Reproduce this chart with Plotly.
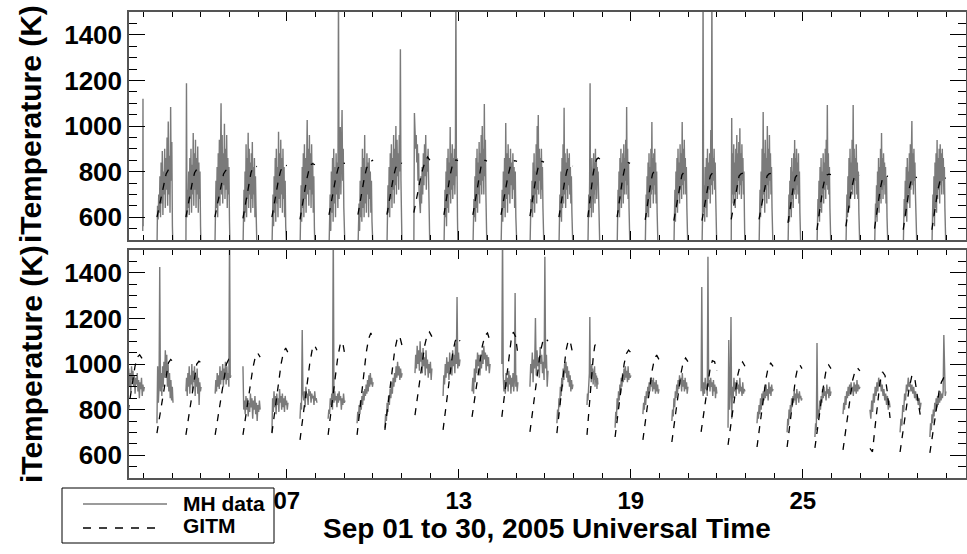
import numpy as np
import plotly.graph_objects as go
from plotly.subplots import make_subplots

# ---------------- data (day of September 2005, temperature in K) ----------------
top_start = [1.975, 2.47, 3.48, 4.49, 5.47, 6.48, 7.46, 8.47, 9.48, 10.49, 11.43, 12.48, 13.49, 14.47,
             15.48, 16.49, 17.50, 18.52, 19.50, 20.50, 21.48, 22.50, 23.47, 24.48, 25.49, 26.50,
             27.50, 28.50, 29.50]
top_end = [1.99, 3.03, 4.01, 5.02, 5.96, 7.00, 7.98, 9.03, 10.01, 11.02, 11.99, 12.97, 13.98, 15.03,
           15.97, 16.98, 17.92, 18.97, 19.95, 20.99, 22.00, 22.98, 23.96, 24.93, 25.98, 26.99,
           27.97, 28.98, 29.99]

top_mh = [
    [540, 1120, 560],
    [450, 650, 590, 700, 620, 780, 600, 840, 660, 890, 610, 800, 700, 900, 640, 860, 720, 950, 650, 1020, 700, 870, 620, 1083, 760, 930, 560, 450],
    [450, 1188, 600, 720, 640, 800, 610, 860, 680, 900, 620, 830, 700, 969, 650, 880, 720, 940, 640, 860, 700, 910, 620, 840, 680, 800, 560, 450],
    [450, 620, 760, 640, 820, 600, 880, 680, 940, 650, 1000, 1100, 700, 960, 660, 880, 740, 1010, 680, 900, 720, 960, 640, 860, 700, 820, 580, 450],
    [450, 600, 720, 580, 800, 620, 920, 600, 860, 680, 970, 640, 900, 700, 840, 620, 880, 680, 930, 640, 820, 700, 860, 600, 780, 650, 540, 450],
    [450, 580, 700, 560, 780, 620, 860, 580, 900, 660, 820, 600, 975, 680, 880, 640, 940, 700, 860, 620, 900, 680, 820, 600, 760, 560, 520, 450],
    [450, 600, 740, 580, 820, 640, 880, 600, 920, 680, 860, 620, 940, 1026, 700, 900, 650, 960, 720, 880, 640, 920, 700, 840, 620, 780, 560, 450],
    [450, 560, 700, 540, 800, 620, 860, 580, 900, 660, 820, 600, 880, 700, 840, 640, 1600, 680, 920, 996, 700, 880, 1070, 760, 900, 640, 520, 450],
    [450, 560, 660, 540, 760, 600, 820, 580, 900, 640, 860, 600, 960, 660, 820, 620, 880, 700, 840, 600, 860, 680, 800, 620, 760, 580, 520, 450],
    [450, 600, 740, 620, 820, 600, 880, 680, 920, 640, 860, 720, 960, 660, 900, 740, 1000, 700, 940, 780, 880, 720, 960, 800, 1337, 760, 600, 450],
    [450, 1057, 980, 900, 960, 840, 920, 760, 880, 700, 640, 618, 780, 660, 820, 700, 880, 740, 920, 780, 960, 720, 860, 800, 900, 760, 620, 450],
    [450, 580, 720, 600, 800, 560, 860, 640, 900, 620, 840, 700, 996, 660, 880, 720, 920, 680, 860, 740, 900, 700, 840, 1600, 780, 860, 600, 450],
    [450, 560, 680, 600, 780, 580, 860, 640, 900, 620, 840, 700, 930, 660, 880, 740, 960, 700, 1000, 760, 900, 700, 1096, 780, 940, 700, 540, 450],
    [450, 600, 720, 580, 800, 640, 860, 600, 1013, 680, 880, 620, 920, 700, 860, 660, 900, 740, 840, 680, 880, 720, 820, 640, 800, 600, 540, 450],
    [450, 580, 680, 620, 760, 600, 840, 660, 880, 620, 800, 700, 920, 660, 1000, 720, 1048, 700, 900, 760, 860, 680, 900, 720, 820, 640, 560, 450],
    [450, 560, 700, 600, 800, 580, 860, 640, 920, 660, 1080, 700, 880, 640, 840, 720, 900, 680, 860, 740, 880, 700, 820, 660, 780, 620, 540, 450],
    [450, 580, 700, 600, 760, 1188, 640, 820, 600, 860, 680, 800, 620, 880, 700, 840, 660, 900, 720, 860, 680, 820, 740, 800, 700, 620, 540, 450],
    [450, 600, 720, 620, 800, 600, 860, 680, 900, 640, 840, 720, 880, 660, 920, 700, 860, 760, 940, 700, 1083, 740, 900, 680, 840, 640, 560, 450],
    [450, 580, 700, 600, 780, 620, 840, 600, 880, 680, 820, 640, 900, 700, 1018, 720, 860, 660, 880, 740, 900, 700, 840, 660, 800, 620, 560, 450],
    [450, 600, 720, 580, 800, 640, 860, 620, 900, 700, 840, 660, 920, 720, 880, 680, 1018, 740, 900, 700, 940, 760, 860, 700, 820, 640, 560, 450],
    [450, 600, 1600, 620, 740, 580, 820, 640, 860, 600, 900, 680, 840, 720, 880, 660, 982, 740, 1600, 700, 860, 760, 900, 720, 840, 680, 560, 450],
    [450, 1035, 700, 880, 660, 920, 700, 840, 640, 900, 720, 960, 680, 880, 760, 930, 700, 990, 740, 880, 680, 920, 760, 860, 700, 800, 600, 450],
    [450, 580, 720, 600, 800, 640, 900, 680, 1061, 700, 880, 620, 940, 720, 860, 660, 1000, 740, 900, 680, 960, 760, 880, 700, 820, 640, 560, 450],
    [450, 600, 700, 580, 760, 640, 820, 600, 860, 680, 800, 640, 880, 700, 939, 720, 860, 680, 900, 740, 840, 700, 880, 660, 800, 620, 540, 450],
    [450, 560, 680, 600, 760, 580, 820, 640, 860, 620, 800, 700, 880, 660, 840, 720, 900, 680, 940, 740, 1092, 720, 880, 700, 820, 640, 540, 450],
    [450, 580, 700, 600, 780, 620, 860, 640, 900, 680, 840, 720, 940, 700, 1092, 740, 900, 680, 860, 760, 920, 700, 840, 680, 800, 620, 560, 450],
    [450, 560, 660, 600, 740, 580, 800, 640, 860, 620, 820, 680, 900, 660, 969, 720, 860, 680, 880, 740, 840, 700, 820, 660, 780, 600, 540, 450],
    [450, 560, 680, 600, 760, 620, 820, 580, 860, 660, 800, 700, 880, 640, 920, 720, 960, 1022, 740, 880, 700, 900, 760, 840, 700, 620, 540, 450],
    [450, 580, 700, 600, 780, 560, 840, 640, 880, 620, 939, 680, 860, 720, 900, 660, 920, 740, 880, 700, 900, 760, 860, 700, 820, 640, 560, 450],
]

top_gitm = [
    [],
    [600, 650, 700, 750, 790, 808, 812, 810],
    [600, 655, 705, 755, 795, 810, 812, 808],
    [600, 650, 700, 750, 790, 805, 810, 806],
    [595, 650, 700, 750, 795, 820, 825, 822],
    [600, 655, 710, 760, 800, 825, 828, 826],
    [590, 650, 705, 760, 800, 830, 835, 830],
    [610, 670, 725, 775, 815, 835, 838, 836],
    [611, 670, 725, 775, 815, 835, 845, 851],
    [611, 670, 725, 775, 815, 835, 838, 836],
    [620, 675, 725, 775, 815, 845, 864, 850],
    [610, 670, 725, 780, 820, 845, 851, 848],
    [610, 668, 724, 778, 820, 843, 850, 846],
    [610, 668, 724, 778, 820, 843, 848, 845],
    [605, 665, 720, 775, 815, 838, 845, 842],
    [600, 660, 715, 765, 805, 822, 827, 824],
    [600, 665, 725, 785, 830, 852, 860, 855],
    [600, 660, 715, 770, 810, 832, 840, 836],
    [588, 645, 700, 750, 790, 803, 807, 805],
    [585, 640, 695, 745, 785, 798, 802, 800],
    [585, 640, 695, 745, 783, 795, 798, 796],
    [590, 642, 695, 742, 780, 790, 793, 791],
    [590, 642, 695, 742, 780, 790, 793, 791],
    [575, 632, 688, 738, 775, 786, 789, 787],
    [544, 610, 675, 730, 772, 785, 789, 787],
    [560, 620, 680, 732, 770, 782, 785, 783],
    [550, 612, 672, 726, 765, 778, 781, 779],
    [545, 608, 668, 722, 760, 773, 776, 774],
    [545, 606, 665, 720, 758, 770, 773, 771],
]

bot_start = [1.46, 2.47, 3.48, 4.50, 5.47, 6.48, 7.46, 8.44, 9.45, 10.42, 11.47, 12.45, 13.46, 14.50,
             15.48, 16.42, 17.47, 18.45, 19.42, 20.43, 21.45, 22.39, 23.40, 24.45, 25.42, 26.40,
             27.34, 28.39, 29.43]
bot_end = [2.03, 3.03, 4.01, 5.05, 6.07, 7.04, 8.05, 9.03, 10.01, 11.02, 12.06, 13.04, 14.09, 15.06,
           16.11, 16.98, 17.85, 19.00, 19.98, 20.99, 22.00, 22.98, 23.96, 24.97, 25.98, 26.99,
           28.04, 29.12, 29.99]

bot_mh = [
    [920, 980, 900, 960, 880, 990, 930, 970, 900, 950, 870, 940, 910, 960, 880, 930, 850, 920, 890, 940, 860, 910, 880, 900],
    [740, 990, 830, 900, 1425, 880, 960, 860, 990, 900, 1010, 940, 1060, 950, 1040, 900, 1000, 880, 960, 850, 930, 840, 900, 830],
    [880, 940, 860, 960, 900, 990, 870, 950, 910, 1000, 880, 970, 920, 990, 860, 950, 900, 980, 870, 940, 820, 920, 880, 900],
    [870, 930, 880, 960, 900, 950, 890, 990, 910, 970, 930, 1000, 900, 980, 940, 1010, 910, 990, 930, 960, 900, 1600, 940, 950],
    [990, 800, 840, 780, 860, 800, 850, 770, 830, 790, 870, 810, 850, 760, 840, 800, 860, 780, 830, 750, 820, 790, 840, 800],
    [700, 850, 790, 880, 810, 860, 780, 870, 820, 850, 790, 890, 830, 860, 800, 870, 810, 850, 790, 860, 820, 840, 800, 830],
    [760, 830, 800, 1149, 870, 840, 880, 810, 900, 850, 870, 820, 890, 860, 880, 830, 870, 850, 860, 820, 880, 840, 850, 830],
    [760, 800, 780, 850, 820, 870, 800, 1600, 830, 880, 840, 860, 810, 870, 830, 880, 840, 860, 800, 850, 820, 870, 830, 840],
    [740, 790, 760, 820, 780, 840, 800, 860, 820, 880, 840, 890, 860, 910, 870, 930, 880, 950, 900, 960, 910, 940, 900, 920],
    [720, 780, 750, 830, 790, 860, 820, 890, 850, 920, 870, 940, 900, 960, 920, 990, 940, 1010, 950, 990, 930, 980, 940, 960],
    [960, 1040, 980, 1080, 1000, 1060, 970, 1100, 1010, 1050, 960, 1070, 990, 1030, 950, 1060, 980, 1020, 940, 1000, 960, 1010, 930, 980],
    [860, 950, 910, 1000, 940, 1030, 960, 1010, 930, 1050, 980, 1020, 950, 1060, 990, 1040, 960, 1090, 1000, 1294, 980, 1050, 990, 1020],
    [880, 940, 870, 980, 920, 1020, 960, 1050, 990, 1040, 950, 1020, 980, 1060, 1000, 1080, 1020, 1050, 970, 1040, 990, 1030, 960, 1000],
    [1000, 1600, 950, 880, 930, 870, 960, 900, 940, 880, 970, 910, 950, 870, 940, 900, 960, 880, 930, 1311, 900, 950, 880, 920],
    [900, 1000, 960, 1050, 920, 1020, 980, 1202, 950, 1060, 990, 1030, 940, 1075, 1000, 1040, 960, 1010, 930, 1470, 980, 1040, 900, 970],
    [740, 800, 770, 850, 810, 900, 860, 940, 900, 980, 930, 1000, 960, 1010, 940, 990, 920, 970, 900, 950, 880, 930, 890, 910],
    [820, 870, 840, 920, 880, 960, 1206, 940, 990, 920, 1000, 950, 980, 910, 970, 930, 990, 900, 960, 920, 950, 890, 940, 910],
    [720, 790, 760, 850, 800, 880, 840, 910, 870, 940, 900, 960, 920, 980, 930, 990, 940, 970, 920, 990, 930, 960, 940, 950],
    [780, 830, 800, 860, 820, 880, 850, 900, 870, 920, 880, 940, 900, 930, 880, 940, 890, 920, 870, 930, 880, 910, 870, 890],
    [750, 800, 770, 850, 810, 880, 850, 910, 870, 930, 890, 950, 910, 940, 880, 960, 900, 930, 880, 940, 890, 920, 870, 900],
    [880, 1338, 900, 860, 920, 870, 940, 890, 910, 860, 1470, 900, 930, 880, 940, 900, 920, 860, 930, 880, 910, 850, 900, 870],
    [720, 1105, 800, 880, 1206, 760, 900, 850, 940, 880, 920, 860, 930, 890, 910, 870, 940, 880, 900, 860, 920, 870, 890, 880],
    [740, 790, 760, 820, 780, 850, 800, 870, 820, 880, 840, 900, 850, 910, 860, 890, 840, 920, 870, 900, 860, 910, 880, 890],
    [700, 760, 730, 800, 760, 820, 790, 850, 810, 860, 830, 880, 840, 870, 820, 890, 850, 870, 830, 880, 850, 860, 840, 850],
    [680, 740, 710, 1092, 760, 800, 770, 840, 800, 860, 830, 890, 850, 900, 860, 880, 840, 910, 870, 890, 850, 900, 860, 880],
    [780, 830, 800, 860, 820, 880, 850, 900, 860, 910, 870, 920, 880, 900, 860, 920, 880, 910, 870, 930, 880, 910, 890, 900],
    [800, 760, 840, 790, 870, 830, 900, 860, 920, 880, 940, 900, 930, 880, 910, 860, 890, 840, 870, 820, 860, 800, 840, 810],
    [700, 760, 730, 820, 790, 870, 840, 910, 880, 940, 900, 920, 880, 910, 870, 900, 850, 880, 840, 860, 820, 850, 800, 830],
    [680, 740, 710, 780, 740, 800, 770, 830, 790, 850, 810, 860, 820, 870, 830, 880, 840, 870, 850, 880, 1127, 870, 860, 880],
]

bot_gitm = [
    [790, 860, 930, 990, 1030, 1040, 1025, 1005],
    [697, 760, 830, 900, 960, 1005, 1020, 1010],
    [689, 750, 820, 890, 950, 1000, 1012, 1005],
    [689, 750, 820, 890, 950, 1000, 1020, 1012],
    [689, 760, 840, 910, 980, 1030, 1048, 1030],
    [697, 770, 850, 930, 1000, 1050, 1070, 1050],
    [667, 750, 840, 920, 1000, 1060, 1083, 1060],
    [689, 770, 860, 950, 1030, 1085, 1097, 1035],
    [689, 780, 880, 970, 1050, 1110, 1136, 1110],
    [711, 800, 890, 980, 1060, 1110, 1123, 1080],
    [776, 850, 930, 1010, 1080, 1125, 1140, 1120],
    [711, 800, 890, 970, 1050, 1100, 1118, 1100],
    [768, 850, 930, 1010, 1080, 1125, 1136, 1100],
    [768, 850, 940, 1030, 1100, 1140, 1120, 1040],
    [702, 790, 880, 970, 1050, 1100, 1114, 1100],
    [697, 790, 890, 980, 1060, 1105, 1090, 1040],
    [689, 780, 870, 960, 1030, 1080, 1092, 1080],
    [680, 760, 850, 930, 1000, 1045, 1061, 1050],
    [667, 740, 820, 900, 970, 1020, 1039, 1020],
    [658, 730, 810, 890, 960, 1010, 1026, 1010],
    [702, 770, 850, 920, 980, 1015, 1010, 970],
    [645, 720, 800, 880, 950, 995, 1009, 990],
    [636, 710, 790, 870, 940, 990, 1004, 990],
    [636, 710, 790, 870, 940, 985, 996, 980],
    [632, 700, 780, 860, 930, 980, 996, 980],
    [623, 700, 780, 860, 930, 970, 982, 970],
    [630, 615, 720, 830, 920, 965, 950, 870, 763],
    [614, 700, 800, 890, 952, 930, 840, 754],
    [610, 680, 750, 820, 880, 920, 939, 935],
]

x_tick_vals = [7, 13, 19, 25]
x_tick_text = ["07", "13", "19", "25"]
x_title = "Sep 01 to 30, 2005 Universal Time"
y_title = "iTemperature (K)"
legend_names = ["MH data", "GITM"]


def join_cycles(starts, ends, cycles):
    xs, ys = [], []
    for s, e, vals in zip(starts, ends, cycles):
        if len(vals) == 0:
            continue
        t = np.linspace(s, e, len(vals))
        xs.extend(t.tolist())
        ys.extend(vals)
        xs.append(None)
        ys.append(None)
    return xs, ys


GRAY = "#7a7a7a"
fig = make_subplots(rows=2, cols=1, shared_xaxes=False, vertical_spacing=10 / 466)

for row, (st, en, mh, gi) in enumerate([(top_start, top_end, top_mh, top_gitm),
                                         (bot_start, bot_end, bot_mh, bot_gitm)], start=1):
    gx, gy = join_cycles(st, en, mh)
    fig.add_trace(go.Scatter(x=gx, y=gy, mode="lines", line=dict(color=GRAY, width=1.4),
                             name=legend_names[0], showlegend=False, connectgaps=False), row=row, col=1)
    dx, dy = join_cycles(st, en, gi)
    fig.add_trace(go.Scatter(x=dx, y=dy, mode="lines",
                             line=dict(color="black", width=1.3, dash="7px,7px"),
                             name=legend_names[1], showlegend=False, connectgaps=False), row=row, col=1)

FONT = "Liberation Sans"
axis_common = dict(showline=True, mirror="ticks", linecolor="#555555", linewidth=1.5,
                   showgrid=False, zeroline=False, tickcolor="black", automargin=False)

for row in (1, 2):
    fig.update_yaxes(range=[500, 1500], tick0=0, dtick=200, ticks="inside", ticklen=16, tickwidth=1.2,
                     tickfont=dict(family=FONT, size=26, color="black", weight="bold"),
                     minor=dict(ticks="inside", ticklen=8, dtick=50, tick0=0, tickcolor="black", tickwidth=1),
                     row=row, col=1, **axis_common)
    fig.update_xaxes(range=[1.495, 30.69], tickmode="array", tickvals=x_tick_vals, ticktext=x_tick_text,
                     ticks="inside", ticklen=9, tickwidth=1.2,
                     showticklabels=(row == 2),
                     tickfont=dict(family=FONT, size=24, color="black", weight="bold"),
                     minor=dict(ticks="inside", ticklen=5, dtick=1, tick0=0, tickcolor="black", tickwidth=1),
                     row=row, col=1, **axis_common)

L, R, T, B = 129, 1, 12, 76
W, H = 967, 554
PH = H - T - B
PW = W - L - R


def px(x):
    return (x - L) / PW


def py(y):
    return (H - B - y) / PH


annotations = [
    dict(text=x_title, x=px(547), y=py(528), xref="paper", yref="paper", showarrow=False,
         xanchor="center", yanchor="middle", font=dict(family=FONT, size=28, color="black", weight="bold")),
    dict(text=y_title, x=px(31), y=py(124), xref="paper", yref="paper", showarrow=False, textangle=-90,
         xanchor="center", yanchor="middle", font=dict(family=FONT, size=30, color="black", weight="bold")),
    dict(text=y_title, x=px(31), y=py(364), xref="paper", yref="paper", showarrow=False, textangle=-90,
         xanchor="center", yanchor="middle", font=dict(family=FONT, size=30, color="black", weight="bold")),
    dict(text=legend_names[0], x=px(181), y=py(503), xref="paper", yref="paper", showarrow=False,
         xanchor="left", yanchor="middle", font=dict(family=FONT, size=21, color="black", weight="bold")),
    dict(text=legend_names[1], x=px(181), y=py(525), xref="paper", yref="paper", showarrow=False,
         xanchor="left", yanchor="middle", font=dict(family=FONT, size=21, color="black", weight="bold")),
]

shapes = [
    dict(type="rect", xref="paper", yref="paper", x0=px(62), x1=px(274), y0=py(543), y1=py(488),
         line=dict(color="black", width=1), fillcolor="white", layer="above"),
    dict(type="line", xref="paper", yref="paper", x0=px(83), x1=px(167), y0=py(504), y1=py(504),
         line=dict(color=GRAY, width=1.3)),
    dict(type="line", xref="paper", yref="paper", x0=px(83), x1=px(160), y0=py(528), y1=py(528),
         line=dict(color="black", width=1.3, dash="8px,8px")),
]

fig.update_layout(width=W, height=H, margin=dict(l=L, r=R, t=T, b=B), paper_bgcolor="white",
                  plot_bgcolor="white", showlegend=False, annotations=annotations, shapes=shapes)

fig.write_html("out.html", config={"displayModeBar": False},
               post_script="document.body.style.margin='0px';document.body.style.padding='0px';"
                           "document.documentElement.style.overflow='hidden';")
